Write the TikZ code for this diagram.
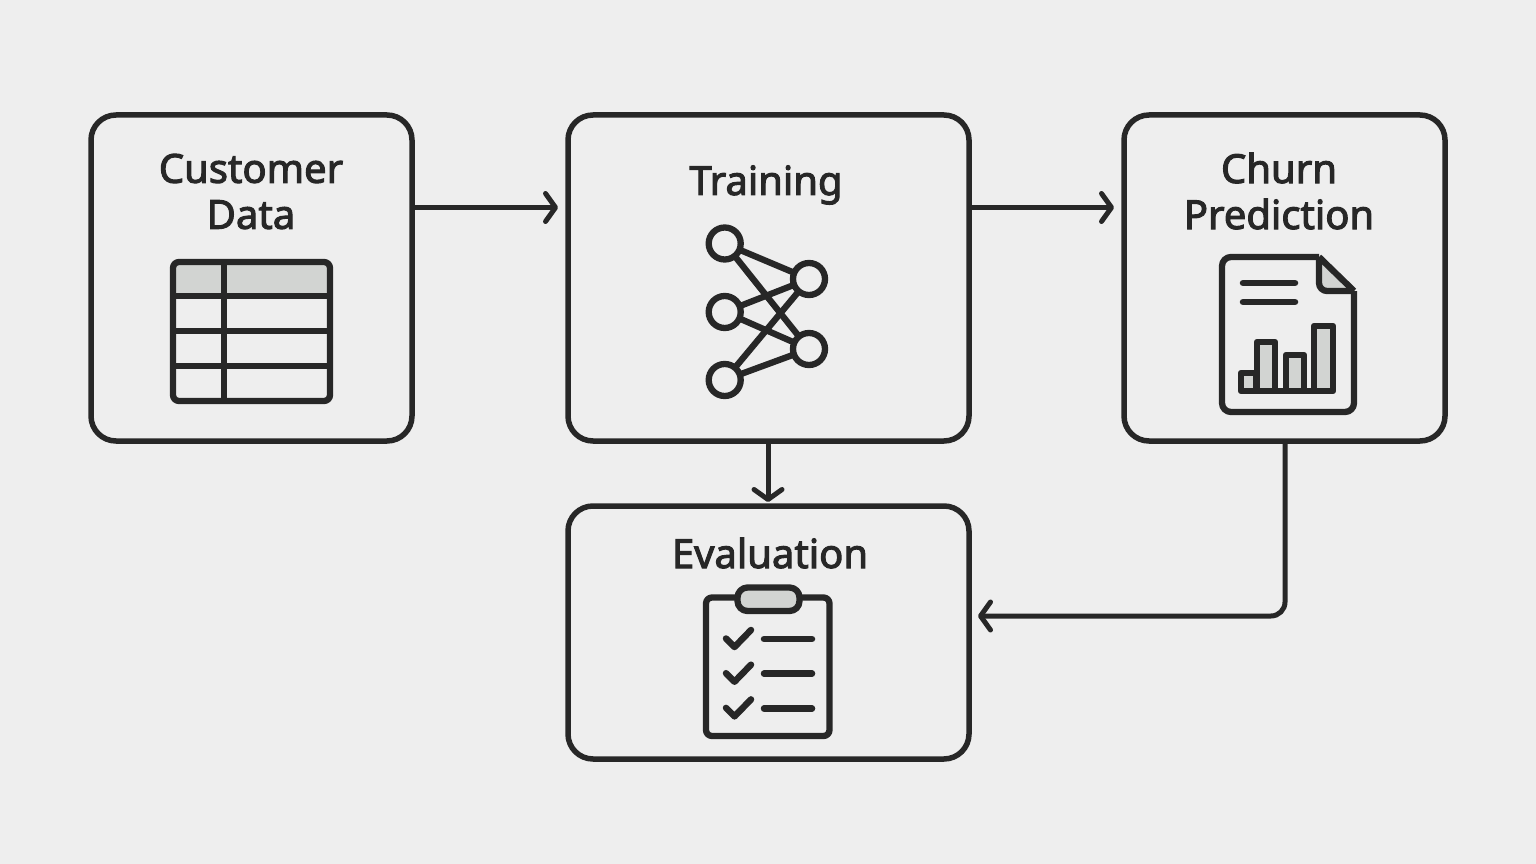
\documentclass[tikz,border=0pt]{standalone}
\usepackage{fontspec}
\setmainfont{Noto Sans}[FakeBold=2.6]
\usetikzlibrary{arrows.meta}
\definecolor{ink}{HTML}{272727}
\definecolor{paper}{HTML}{EEEEEE}
\definecolor{tint}{HTML}{D2D4D2}
\tikzset{
  card/.style={draw=ink,line width=5.5pt,rounded corners=25pt,outer sep=0pt,inner sep=0pt},
  title/.style={text=ink,font=\fontsize{40}{46}\selectfont,align=center,inner sep=0pt},
  flow/.style={draw=ink,line width=5pt,-{Straight Barb[length=10pt,width=28pt,line width=5pt,round]}},
  icon/.style={draw=ink,line width=6.3pt,line join=round},
  rule/.style={draw=ink,line width=6.5pt,line cap=round},
  neuron/.style={circle,draw=ink,line width=6.3pt,fill=paper,minimum size=32pt,inner sep=0pt,outer sep=0pt}
}
\begin{document}
\begin{tikzpicture}[x=1pt,y=-1pt]
\useasboundingbox[fill=paper] (0,0) rectangle (1536,864);
% boxes
\node[card,minimum width=321pt,minimum height=326pt] (data) at (251.5,278) {};
\node[card,minimum width=401pt,minimum height=326pt] (train) at (768.5,278) {};
\node[card,minimum width=321pt,minimum height=326pt] (churn) at (1284.5,278) {};
\node[card,minimum width=401pt,minimum height=253pt] (eval) at (768.5,632.5) {};
% titles
\node[title] (datatitle) at (251,191.5) {Customer\\Data};
\node[title] (traintitle) at (766,185) {Training};
\node[title] (churntitle) at (1279,191) {Churn\\Prediction};
\node[title] (evaltitle) at (770,553) {Evaluation};
% arrows
\coordinate (datain) at (558,207.5);
\coordinate (churnin) at (1114,207.5);
\coordinate (evalin) at (978,616);
\coordinate (evaltop) at (768,502);
\coordinate (churnout) at (1285,441);
\draw[flow] (data.east |- datain) -- (datain);
\draw[flow] (train.east |- churnin) -- (churnin);
\draw[flow] (train.south -| evaltop) -- (evaltop);
\draw[flow,rounded corners=14pt] (churnout) |- (evalin);
% table
\fill[tint] (173,262) rectangle (330,296);
\draw[icon,rounded corners=6pt] (173,262) rectangle (330,401);
\foreach \y in {296,331,366}
  \draw[icon] (173,\y) -- (330,\y);
\draw[icon] (224,262) -- (224,401);
% network
\node[neuron] (l1) at (724.7,243.5) {};
\node[neuron] (l2) at (724.7,312) {};
\node[neuron] (l3) at (724.7,380) {};
\node[neuron] (r1) at (809,279) {};
\node[neuron] (r2) at (809,349) {};
\foreach \a in {l1,l2,l3}
  \foreach \b in {r1,r2}
    \draw[icon] (\a) -- (\b);
% report
\draw[icon,rounded corners=9pt] (1319,257) -- (1222,257) -- (1222,412) -- (1354,412) -- (1354,291);
\fill[tint] (1319,257) -- (1354,291) -- (1319,291) -- cycle;
\draw[icon] (1319,257) -- (1354,291);
\draw[icon,rounded corners=8pt] (1319,257) -- (1319,291) -- (1354,291);
\draw[rule] (1243,283) -- (1295,283);
\draw[rule] (1243,302) -- (1295,302);
\foreach \xa/\xb/\t in {1241/1256/373,1257/1275/342,1286/1304/355,1314/1333/326}
  \draw[icon,fill=tint] (\xa,391) rectangle (\xb,\t);
\draw[icon] (1241,391) -- (1333,391);
% clipboard
\draw[icon,rounded corners=6pt] (706,597.5) rectangle (829.5,736);
\draw[icon,fill=tint,rounded corners=10pt] (737.5,587.5) rectangle (799.5,611);
\foreach \y in {0,34.7,69.4} {
  \draw[rule,line join=round] (726,638.5+\y) -- (734.5,647+\y) -- (751,630+\y);
  \draw[rule] (764,639+\y) -- (812,639+\y);
}
\end{tikzpicture}
\end{document}
